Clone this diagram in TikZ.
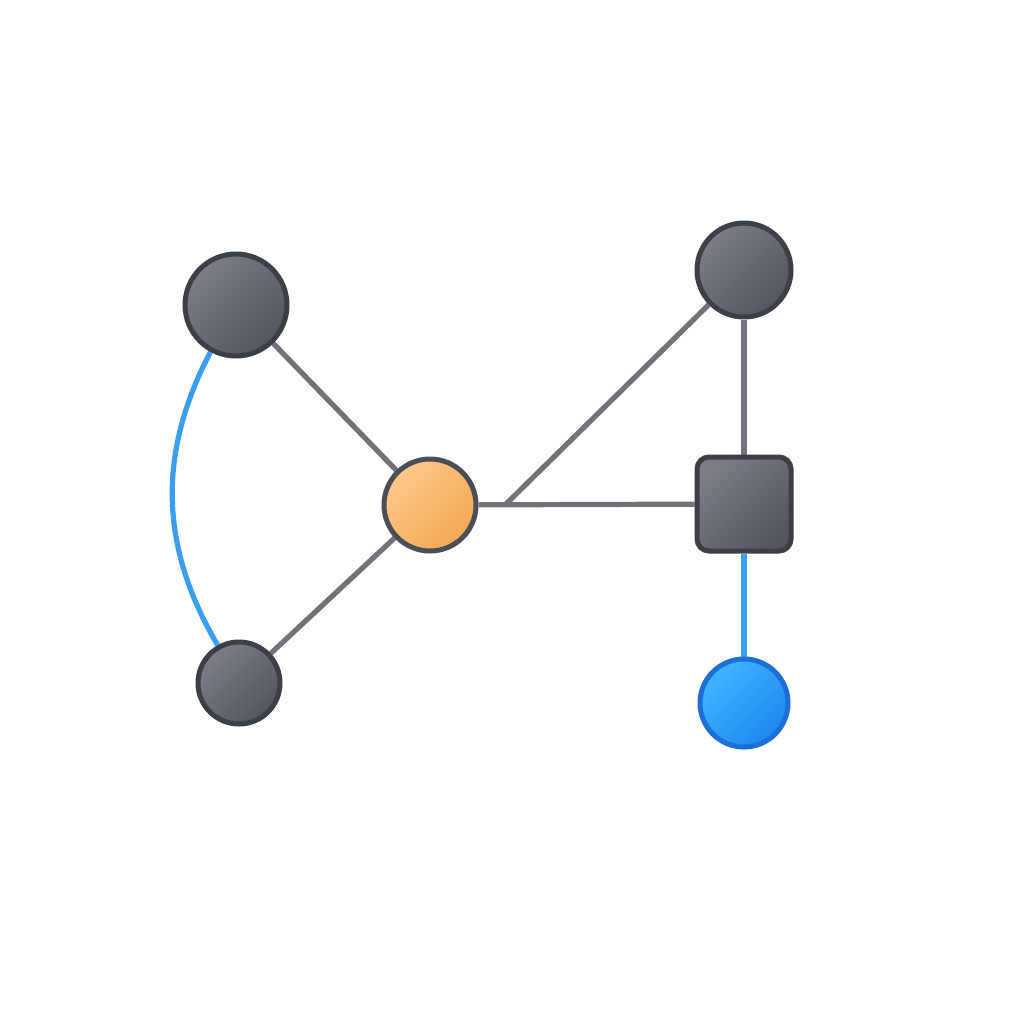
\documentclass[tikz,border=0pt]{standalone}
\usetikzlibrary{backgrounds}
\definecolor{glight}{HTML}{7A7F87}
\definecolor{gdark}{HTML}{52565E}
\definecolor{gborder}{HTML}{3B3F46}
\definecolor{oborder}{HTML}{4A4F57}
\definecolor{olight}{HTML}{FDC88A}
\definecolor{odark}{HTML}{F4A853}
\definecolor{blight}{HTML}{40B5FF}
\definecolor{bdark}{HTML}{1E87F0}
\definecolor{bborder}{HTML}{1C6FD6}
\definecolor{edgegray}{HTML}{707377}
\definecolor{edgeblue}{HTML}{3A9EF2}
\tikzset{
  graynode/.style={circle, draw=gborder, line width=2.5pt, top color=glight, bottom color=gdark, shading angle=45, inner sep=0pt},
  orangenode/.style={circle, draw=oborder, line width=2.5pt, top color=olight, bottom color=odark, shading angle=45, inner sep=0pt, minimum size=46pt},
  bluenode/.style={circle, draw=bborder, line width=2.5pt, top color=blight, bottom color=bdark, shading angle=45, inner sep=0pt, minimum size=44pt},
  squarenode/.style={rectangle, rounded corners=6pt, draw=gborder, line width=2.5pt, top color=glight, bottom color=gdark, shading angle=45, inner sep=0pt, minimum size=47pt},
  grayedge/.style={draw=edgegray, line width=2.6pt},
  blueedge/.style={draw=edgeblue, line width=2.6pt},
}
\begin{document}
\begin{tikzpicture}[x=0.5pt, y=-0.5pt]
\useasboundingbox (0,0) rectangle (1024,1024);
\node[graynode, minimum size=51pt] (A) at (236,305) {};
\node[graynode, minimum size=41pt] (B) at (239,683) {};
\node[orangenode] (C) at (430,505) {};
\node[graynode, minimum size=47pt] (D) at (744,270) {};
\node[squarenode] (E) at (744,504) {};
\node[bluenode] (F) at (744,703) {};
\coordinate (J) at (505,505);
\begin{pgfonlayer}{background}
\draw[grayedge] (A) -- (C);
\draw[grayedge] (B) -- (C);
\draw[grayedge] (C) -- (E);
\draw[grayedge] (J) -- (D);
\draw[grayedge] (D) -- (E);
\draw[blueedge] (E) -- (F);
\draw[blueedge] (A) to[bend right=29] (B);
\end{pgfonlayer}
\end{tikzpicture}
\end{document}
